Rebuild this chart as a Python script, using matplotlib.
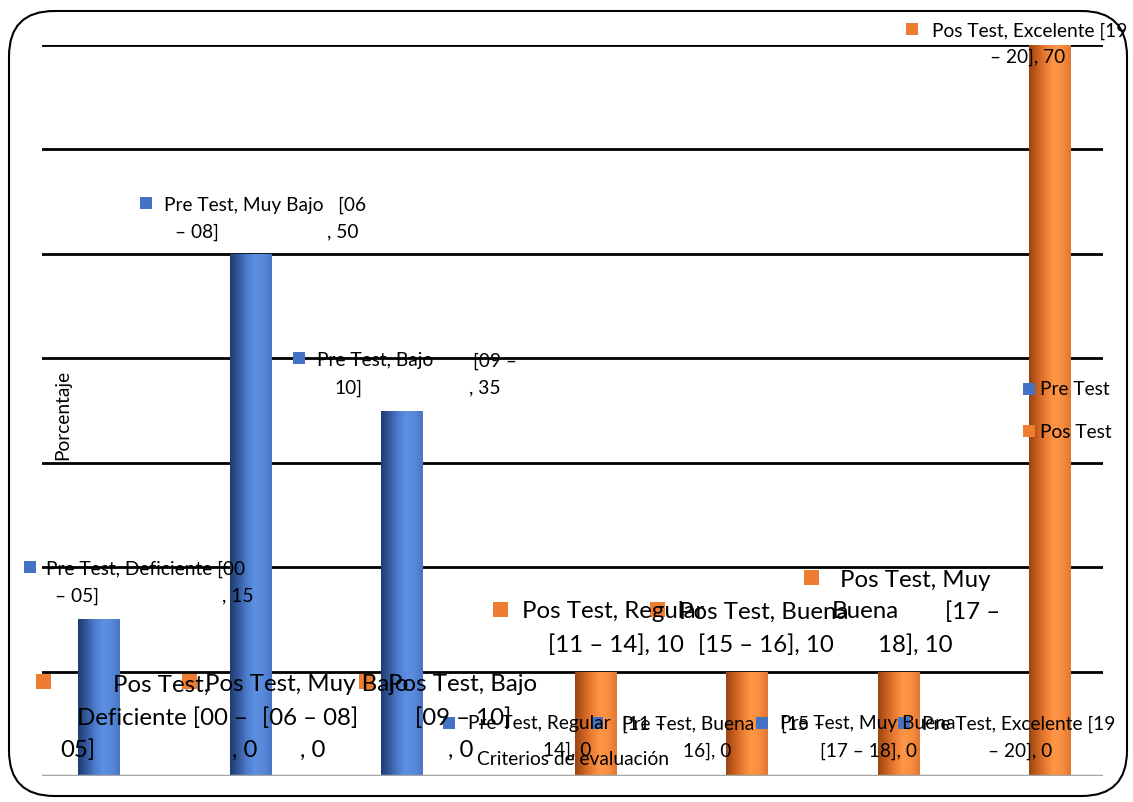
import matplotlib
matplotlib.use("Agg")
import matplotlib.pyplot as plt
import numpy as np
from matplotlib.patches import Rectangle, FancyBboxPatch
from matplotlib.colors import LinearSegmentedColormap

W, H = 1133, 803

categories = ["Deficiente [00 – 05]", "Muy Bajo [06 – 08]", "Bajo [09 – 10]",
              "Regular [11 – 14]", "Buena [15 – 16]", "Muy Buena [17 – 18]",
              "Excelente [19 – 20]"]
series_names = ["Pre Test", "Pos Test"]
pre_test = [15, 50, 35, 0, 0, 0, 0]
pos_test = [0, 0, 0, 10, 10, 10, 70]
y_ticks = [0, 10, 20, 30, 40, 50, 60, 70]

BLUE = "#4472C4"
ORANGE = "#ED7D31"
FONT = ["Lato", "DejaVu Sans"]
plt.rcParams['font.family'] = FONT

fig = plt.figure(figsize=(W / 100, H / 100), dpi=100)

def fx(x):
    return x / W

def fy(y):
    return 1 - y / H

# outer rounded frame
frame = FancyBboxPatch((fx(9), fy(797)), fx(1118), (797 - 12) / H,
                       boxstyle="round,pad=0,rounding_size=0.04",
                       transform=fig.transFigure, fill=False,
                       edgecolor="black", linewidth=1.5, mutation_aspect=W / H)
fig.patches.append(frame)

ax = fig.add_axes([fx(42), fy(777), (1103 - 42) / W, (777 - 46) / H])
for s in ax.spines.values():
    s.set_visible(False)
ax.set_xticks([])
ax.set_yticks([])

x = np.arange(len(categories))
bw = 0.277
blue_cmap = LinearSegmentedColormap.from_list(
    "b", ["#203c72", "#34599e", "#4d7ccc", "#5d8fe2", "#5889da", "#4a77c4"])
orange_cmap = LinearSegmentedColormap.from_list(
    "o", ["#9a4512", "#c8601f", "#ec7d33", "#ff9646", "#f98d40", "#e27733"])

for yv in y_ticks[1:]:
    ax.axhline(yv, color="black", linewidth=2, zorder=1)
ax.axhline(0, color="#a6a6a6", linewidth=2.5, zorder=4)

bars_pre = ax.bar(x - bw / 2, pre_test, bw, color=BLUE, zorder=2)
bars_pos = ax.bar(x + bw / 2, pos_test, bw, color=ORANGE, zorder=2)
grad = np.linspace(0, 1, 64).reshape(1, -1)
for bars, cmap in ((bars_pre, blue_cmap), (bars_pos, orange_cmap)):
    for b in bars:
        if b.get_height() <= 0:
            continue
        x0, w_, h_ = b.get_x(), b.get_width(), b.get_height()
        im = ax.imshow(grad, extent=[x0, x0 + w_, 0, h_], aspect="auto",
                       cmap=cmap, zorder=3, interpolation="bicubic")
        im.set_clip_path(b)

ax.set_xlim(-0.515, 6.488)
ax.set_ylim(0, 70)

SMALL = 13.8
LARGE = 17.3


def marker(xc, yc, size, color):
    fig.patches.append(Rectangle((fx(xc - size / 2), fy(yc + size / 2)),
                                 size / W, size / H, transform=fig.transFigure,
                                 facecolor=color, edgecolor="none", zorder=10))


def txt(s, x0, y0, size):
    fig.text(fx(x0), fy(y0), s, fontsize=size, ha="left", va="center",
             color="black", zorder=11)


def short(i):
    c = categories[i]
    return c.split(" [")[0]


# Pre Test labels (small)
marker(30, 568, 12, BLUE)
txt(f"{series_names[0]}, {short(0)} [00", 46, 569, SMALL)
txt("– 05]", 55, 596, SMALL)
txt(f", {pre_test[0]}", 222, 596, SMALL)

marker(146, 204, 12, BLUE)
txt(f"{series_names[0]}, {short(1)}   [06", 164, 205, SMALL)
txt("– 08]", 175, 232, SMALL)
txt(f", {pre_test[1]}", 327, 232, SMALL)

marker(299, 359, 12, BLUE)
txt(f"{series_names[0]}, {short(2)}", 317, 361, SMALL)
txt("[09 –", 473, 361, SMALL)
txt("10]", 334, 388, SMALL)
txt(f", {pre_test[2]}", 469, 388, SMALL)

marker(449, 724, 12, BLUE)
txt(f"{series_names[0]}, {short(3)}", 468, 724, SMALL)
txt("[11 –", 622, 724, SMALL)
txt(f"14], {pre_test[3]}", 543, 750, SMALL)

marker(597, 724, 12, BLUE)
txt(f"{series_names[0]}, {short(4)}", 622, 724, SMALL)
txt("[15 –", 781, 724, SMALL)
txt(f"16], {pre_test[4]}", 683, 751, SMALL)

marker(762, 724, 12, BLUE)
txt(f"{series_names[0]}, {short(5)}", 780, 724, SMALL)
txt(f"[17 – 18], {pre_test[5]}", 820, 751, SMALL)

marker(904, 724, 12, BLUE)
txt(f"{series_names[0]}, {short(6)} [19", 922, 724, SMALL)
txt(f"– 20], {pre_test[6]}", 988, 751, SMALL)

# Pos Test labels
marker(43, 682, 15, ORANGE)
txt(f"{series_names[1]},", 113, 685, LARGE)
txt(f"{short(0)} [00 –", 77, 718, LARGE)
txt("05]", 60, 750, LARGE)
txt(f", {pos_test[0]}", 232, 750, LARGE)

marker(189, 682, 15, ORANGE)
txt(f"{series_names[1]}, {short(1)}", 205, 685, LARGE)
txt("[06 – 08]", 262, 718, LARGE)
txt(f", {pos_test[1]}", 300, 750, LARGE)

marker(366, 682, 15, ORANGE)
txt(f"{series_names[1]}, {short(2)}", 388, 685, LARGE)
txt("[09 – 10]", 415, 718, LARGE)
txt(f", {pos_test[2]}", 448, 750, LARGE)

marker(500, 610, 15, ORANGE)
txt(f"{series_names[1]}, {short(3)}", 522, 612, LARGE)
txt(f"[11 – 14], {pos_test[3]}", 548, 645, LARGE)

marker(657, 610, 15, ORANGE)
txt(f"{series_names[1]}, {short(4)}", 679, 612, LARGE)
txt(f"[15 – 16], {pos_test[4]}", 698, 645, LARGE)

marker(812, 578, 15, ORANGE)
txt(f"{series_names[1]}, Muy", 840, 581, LARGE)
txt("Buena", 832, 612, LARGE)
txt("[17 –", 945, 612, LARGE)
txt(f"18], {pos_test[5]}", 878, 645, LARGE)

marker(912, 30, 12, ORANGE)
txt(f"{series_names[1]}, {short(6)} [19", 932, 31, SMALL)
txt(f"– 20], {pos_test[6]}", 990, 57, SMALL)

# axis titles
fig.text(fx(573), fy(760), "Criterios de evaluación", fontsize=SMALL,
         ha="center", va="center", zorder=11)
fig.text(fx(63), fy(415), "Porcentaje", fontsize=SMALL, rotation=90,
         ha="center", va="center", zorder=11)

# legend
marker(1029, 390, 12, BLUE)
txt(series_names[0], 1040, 390, SMALL)
marker(1029, 432, 12, ORANGE)
txt(series_names[1], 1040, 432, SMALL)

fig.savefig("out.png", dpi=100)
